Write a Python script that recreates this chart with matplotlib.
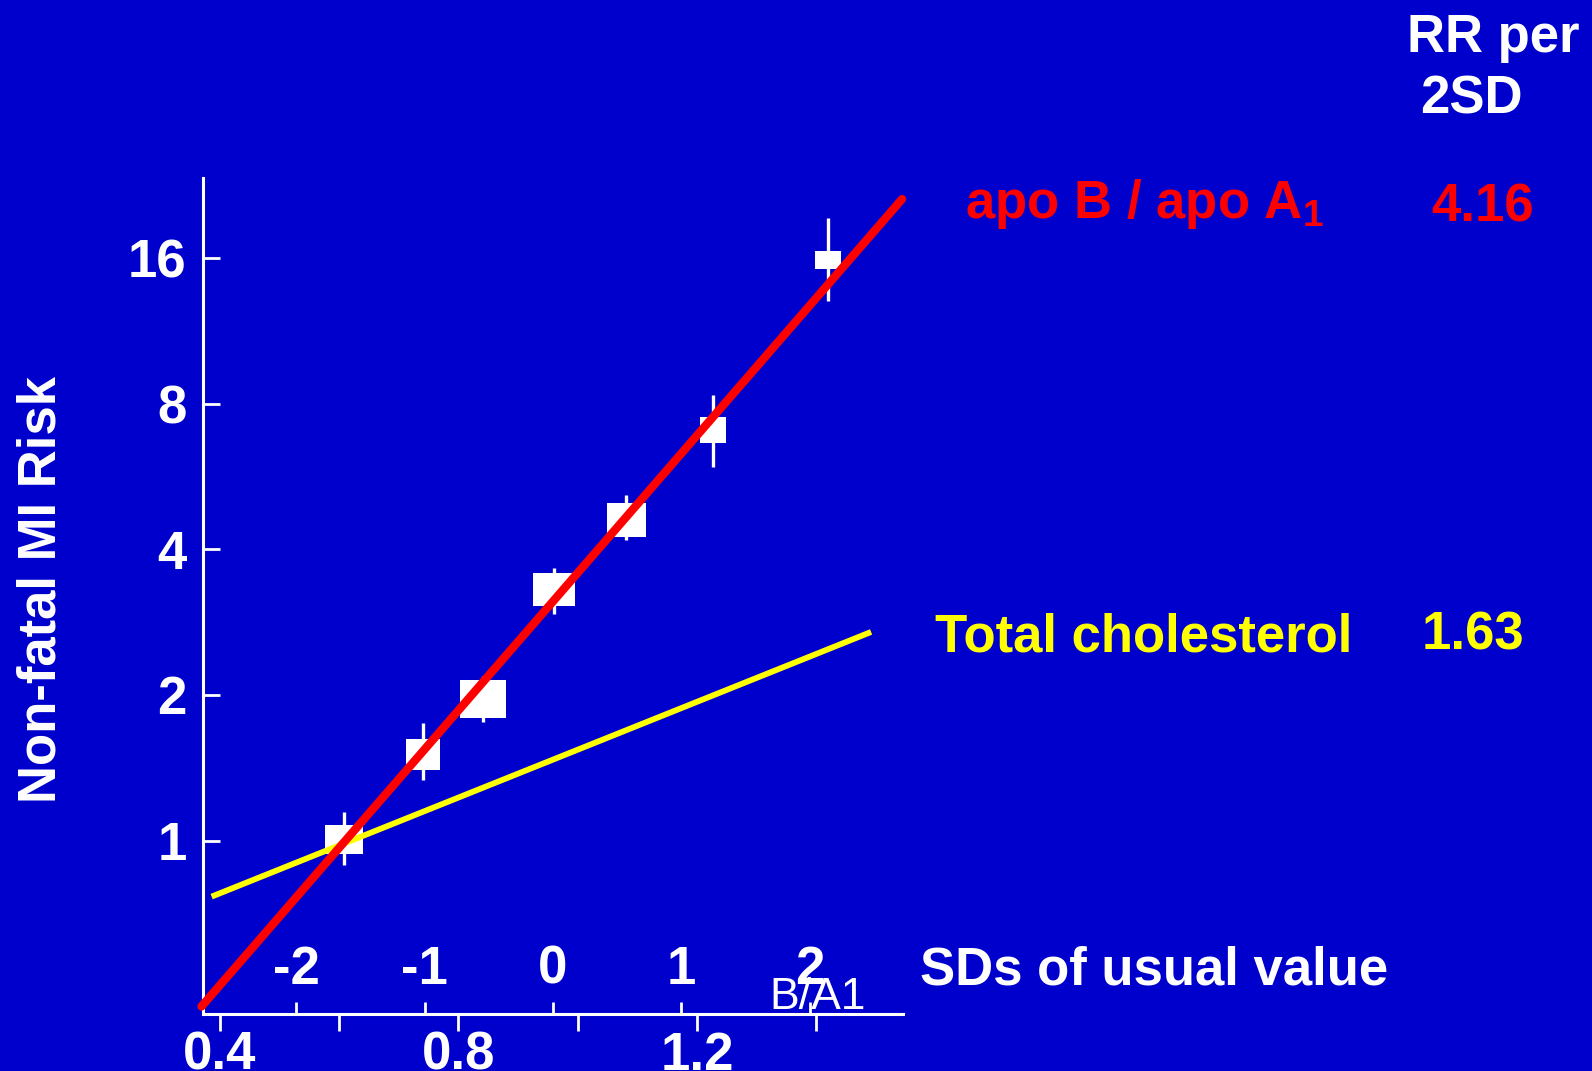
import matplotlib
matplotlib.use('Agg')
import matplotlib.pyplot as plt
from matplotlib.ticker import NullLocator

plt.rcParams['font.family'] = ['Liberation Sans', 'DejaVu Sans']
plt.rcParams['font.weight'] = 'bold'
plt.rcParams['mathtext.fontset'] = 'custom'
plt.rcParams['mathtext.rm'] = 'Liberation Sans:bold'
plt.rcParams['mathtext.it'] = 'Liberation Sans:bold'
plt.rcParams['mathtext.bf'] = 'Liberation Sans:bold'

BG = '#0000CC'

# quantile groups: apoB/apoA1 ratio vs relative risk (with CI)
ba_ratio = [0.608, 0.740, 0.841, 0.961, 1.081, 1.227, 1.420]
rr = [1.01, 1.51, 1.96, 3.31, 4.61, 7.05, 15.84]
rr_lo = [0.891, 1.335, 1.757, 2.94, 4.18, 5.93, 13.06]
rr_hi = [1.145, 1.749, 2.19, 3.66, 5.19, 8.35, 19.4]
# box sizes (px), roughly proportional to precision
box_w = [38, 34, 46, 42, 39, 27, 27]
box_h = [29, 31, 38, 33, 34, 27, 19]

# fitted lines
apo_fit_x = [0.369, 1.544]
apo_fit_rr = [0.454, 21.2]
chol_fit_x = [0.386, 1.492]
chol_fit_rr = [0.766, 2.70]

# axes
ba_mean, ba_sd = 0.9585, 0.2153
y_ticks = [1, 2, 4, 8, 16]
ba_major = [0.4, 0.8, 1.2]
ba_minor = [0.6, 1.0, 1.4]
sd_ticks = [-2, -1, 0, 1, 2]

fig = plt.figure(figsize=(15.92, 10.71), dpi=100, facecolor=BG)
ax = fig.add_axes([0.1273, 0.0532, 0.4401, 0.7803])
ax.set_facecolor(BG)
ax.set_yscale('log', base=2)
ax.set_xlim(0.371, 1.546)
ax.set_ylim(0.438, 23.4)

# error bars then boxes
ax.vlines(ba_ratio, rr_lo, rr_hi, color='white', lw=2.4, zorder=2)
for x, y, w, h in zip(ba_ratio, rr, box_w, box_h):
    m = max(w, h)
    a, b = w / m, h / m
    verts = [(-a, -b), (a, -b), (a, b), (-a, b), (-a, -b)]
    ax.plot([x], [y], marker=verts, markersize=m * 0.72, color='white',
            mew=0, linestyle='none', zorder=3)

ax.plot(chol_fit_x, chol_fit_rr, color='#FFFF00', lw=4.2, zorder=4,
        solid_capstyle='butt', clip_on=False)
ax.plot(apo_fit_x, apo_fit_rr, color='#FF0000', lw=6, zorder=5,
        solid_capstyle='round', clip_on=False)

# spines
for s in ['top', 'right']:
    ax.spines[s].set_visible(False)
for s in ['left', 'bottom']:
    ax.spines[s].set_color('white')
    ax.spines[s].set_linewidth(2.2)

ax.set_yticks(y_ticks)
ax.set_yticklabels([str(t) for t in y_ticks])
ax.yaxis.set_minor_locator(NullLocator())
ax.tick_params(axis='y', direction='in', length=12.5, width=2, colors='white',
               labelsize=38, pad=11.5)

ax.set_xticks(ba_major)
ax.set_xticklabels([str(t) for t in ba_major])
ax.set_xticks(ba_minor, minor=True)
ax.tick_params(axis='x', which='both', direction='out', length=12, width=2,
               colors='white', labelsize=38, pad=0)

secax = ax.secondary_xaxis('bottom', functions=(lambda v: (v - ba_mean) / ba_sd,
                                                lambda s: ba_mean + s * ba_sd))
secax.set_xticks(sd_ticks)
secax.set_xticklabels([str(t) for t in sd_ticks])
secax.spines['bottom'].set_visible(False)
secax.tick_params(direction='in', length=8.6, width=2, colors='white',
                  labelsize=38, pad=-50)

# labels
fig.text(0.0258, 0.45, 'Non-fatal MI Risk', rotation=90, ha='center', va='center',
         color='white', fontsize=38)
fig.text(0.5779, 0.0803, 'SDs of usual value', color='white', fontsize=38,
         va='baseline')
fig.text(0.483, 0.0579, 'B/A1', color='white', fontsize=32, fontweight='normal',
         va='baseline')
fig.text(0.8836, 0.9517, 'RR per', color='white', fontsize=38, va='baseline')
fig.text(0.8920, 0.8942, '2SD', color='white', fontsize=38, va='baseline')
fig.text(0.6061, 0.7965, r'apo B / apo A$_\mathregular{1}$', color='#FF0000',
         fontsize=38, va='baseline')
fig.text(0.8993, 0.7930, '4.16', color='#FF0000', fontsize=38, va='baseline')
fig.text(0.5873, 0.3915, 'Total cholesterol', color='#FFFF00', fontsize=38,
         va='baseline')
fig.text(0.8929, 0.3931, '1.63', color='#FFFF00', fontsize=38, va='baseline')

fig.savefig('out.png', dpi=100, facecolor=BG)
